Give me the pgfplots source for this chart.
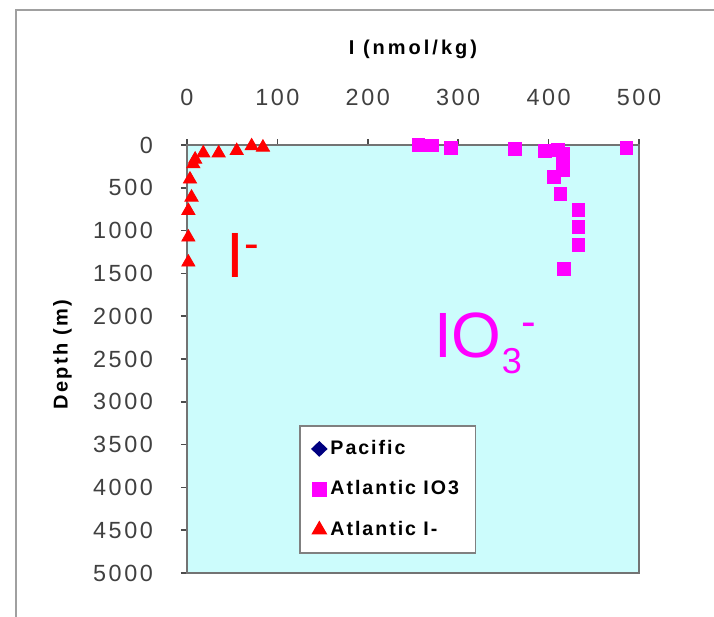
\documentclass[border=0pt]{standalone}
\usepackage{pgfplots}
\pgfplotsset{compat=1.18}
\usepackage{fontspec}
\setmainfont{Liberation Sans}
\definecolor{cyanbg}{RGB}{204,252,252}
\definecolor{mag}{RGB}{255,0,255}
\definecolor{navyb}{RGB}{0,0,128}
\definecolor{framegray}{RGB}{160,160,160}
\begin{document}
\begin{tikzpicture}
\fill[white] (0pt,0pt) rectangle (357pt,-308.5pt);
\useasboundingbox (0pt,0pt) rectangle (357pt,-308.5pt);
\draw[framegray, line width=1pt] (8pt,-312pt) -- (8pt,-5pt) -- (362pt,-5pt);
\begin{axis}[
  at={(93.5pt,-286.5pt)}, anchor=south west,
  scale only axis, width=226pt, height=214pt,
  xmin=0, xmax=500, ymin=0, ymax=5000, y dir=reverse,
  xtick={0,100,...,500}, ytick={0,500,...,5000},
  xtick pos=upper, xticklabel pos=upper, ytick pos=left,
  tick align=outside, major tick length=3pt,
  tick style={black!70, line width=0.8pt},
  axis line style={black!55, line width=1pt},
  axis background/.style={fill=cyanbg},
  clip=false,
  /pgf/number format/assume math mode=true,
  /pgf/number format/set thousands separator={},
  tick label style={font=\fontsize{11.7}{12}\selectfont\addfontfeature{LetterSpace=11}, text=black!75},
  xticklabel style={anchor=south, yshift=13pt},
  yticklabel style={anchor=east, xshift=-10.5pt},
  legend style={at={(0.2478,0.346)}, anchor=north west, draw=gray, fill=white,
    line width=0.8pt, font=\bfseries\fontsize{9.8}{12}\selectfont\addfontfeature{LetterSpace=10},
    row sep=7.6pt, inner xsep=6.2pt, inner ysep=5.3pt, cells={anchor=west}},
  legend image code/.code={\draw[#1] plot coordinates {(0pt,0pt)};},
]
\addlegendimage{only marks, mark=diamond*, mark size=3.4pt, mark options={xscale=1.4}, color=navyb}
\addlegendentry{Pacific}
\addplot[only marks, mark=square*, mark size=3.2pt, color=mag] coordinates {
(256,0) (271,5) (292,30) (363,50) (396,70) (410,55) (416,100) (416,195)
(416,290) (406,370) (413,570) (433,760) (433,960) (433,1170) (417,1450) (486,30)
};
\addlegendentry{Atlantic IO3}
\addplot[only marks, mark=triangle*, mark size=3.8pt, color=red] coordinates {
(71.5,12) (84,27) (55,67) (35,95) (18,95) (9,167) (7,222) (3.3,400)
(5,611) (1.5,767) (1.5,1078) (1.5,1370)
};
\addlegendentry{Atlantic I-}
\node[anchor=base, font=\bfseries\fontsize{10}{12}\selectfont\addfontfeature{LetterSpace=15}]
  at ([yshift=45.5pt]axis description cs:0.5,1) {I (nmol/kg)};
\node[rotate=90, anchor=base, font=\bfseries\fontsize{10}{12}\selectfont\addfontfeature{LetterSpace=12}]
  at ([xshift=-59.7pt,yshift=2.25pt]axis description cs:0,0.5) {Depth (m)};
\node[anchor=base west, inner sep=0pt, text=red] at (axis cs:43,1542)
  {\fontsize{32}{32}\selectfont I\raisebox{9.5pt}{\fontsize{22}{22}\selectfont -}};
\node[anchor=base west, inner sep=0pt, text=mag] at (axis cs:273,2477)
  {\fontsize{32}{32}\selectfont IO\raisebox{-8pt}{\fontsize{18}{18}\selectfont 3}\raisebox{10.5pt}{\fontsize{22}{22}\selectfont -}};
\end{axis}
\end{tikzpicture}
\end{document}
